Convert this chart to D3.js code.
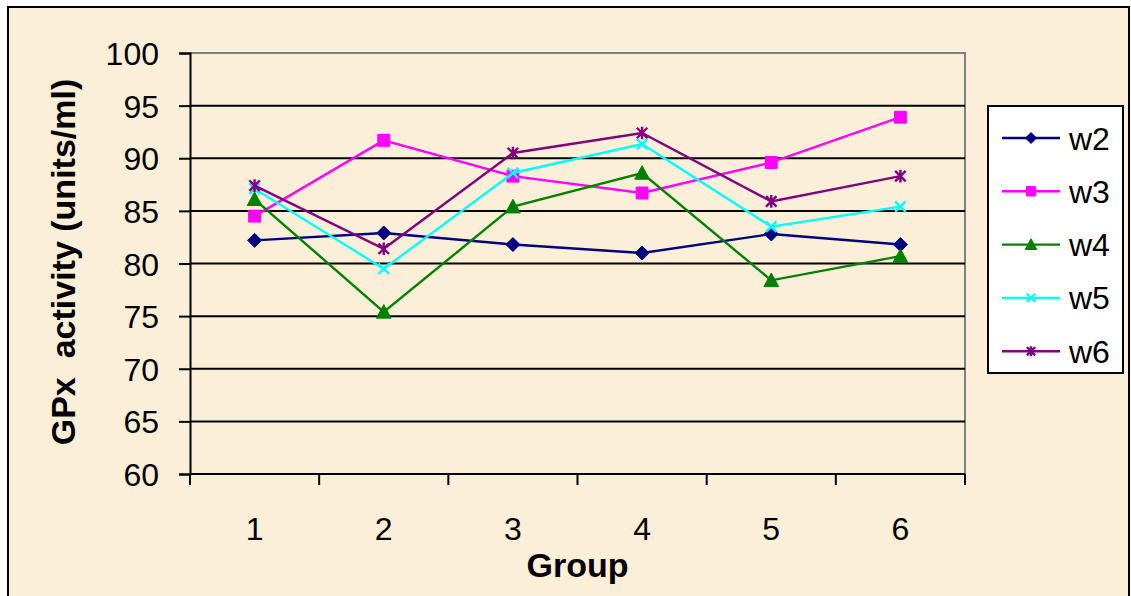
<!DOCTYPE html>
<html>
<head>
<meta charset="utf-8">
<script src="https://cdn.jsdelivr.net/npm/d3@7"></script>
<style>
  html, body { margin: 0; padding: 0; background: #ffffff; }
  svg { display: block; }
  text { font-family: Arial, "Liberation Sans", sans-serif; }
</style>
</head>
<body>
<svg id="chart" width="1131" height="596"></svg>
<script>
// ---- data ----
const groups = ["1", "2", "3", "4", "5", "6"];
const seriesNames = ["w2", "w3", "w4", "w5", "w6"];
const w2 = [82.2, 82.9, 81.8, 81.0, 82.8, 81.8];
const w3 = [84.5, 91.7, 88.3, 86.7, 89.6, 93.9];
const w4 = [86.1, 75.4, 85.4, 88.6, 78.4, 80.7];
const w5 = [87.1, 79.5, 88.6, 91.35, 83.5, 85.4];
const w6 = [87.4, 81.4, 90.5, 92.4, 85.9, 88.3];
const yTicks = [60, 65, 70, 75, 80, 85, 90, 95, 100];
const xTitle = "Group";
const yTitle = "GPx  activity (units/ml)";

const seriesValues = [w2, w3, w4, w5, w6];
const seriesColors = ["#000080", "#FF00FF", "#008000", "#00FFFF", "#800080"];
const seriesMarkers = ["diamond", "square", "triangle", "x", "star"];

// ---- layout ----
const plot = { left: 190, right: 965, top: 53, bottom: 474 };
const bg = "#FBEFD8";
const fontFam = "Arial, 'Liberation Sans', sans-serif";

const svg = d3.select("#chart");

// frame / background
svg.append("rect").attr("x", 8).attr("y", 7).attr("width", 1121).attr("height", 620)
  .attr("fill", bg).attr("stroke", "#000").attr("stroke-width", 2);

const x = d3.scaleBand().domain(groups).range([plot.left, plot.right]).paddingInner(0).paddingOuter(0);
const y = d3.scaleLinear().domain([60, 100]).range([plot.bottom, plot.top]);

// plot border (grey top and right)
svg.append("path")
  .attr("d", `M${plot.left},${plot.top}H${plot.right}V${plot.bottom}`)
  .attr("fill", "none").attr("stroke", "#808080").attr("stroke-width", 2);

// gridlines
svg.append("g").selectAll("line")
  .data(yTicks.filter(v => v > 60 && v < 100))
  .join("line")
  .attr("x1", plot.left).attr("x2", plot.right)
  .attr("y1", d => y(d)).attr("y2", d => y(d))
  .attr("stroke", "#000").attr("stroke-width", 2);

// y axis
const yAxis = svg.append("g")
  .attr("transform", `translate(${plot.left},0)`)
  .call(d3.axisLeft(y).tickValues(yTicks).tickSize(11).tickPadding(20).tickFormat(d3.format("d")));
yAxis.select(".domain").attr("stroke", "#000").attr("stroke-width", 2);
yAxis.selectAll(".tick line").attr("stroke", "#000").attr("stroke-width", 2);
yAxis.selectAll(".tick text").attr("font-size", 32).attr("fill", "#000")
  .attr("font-family", fontFam).attr("dy", "0.36em");

// x axis: labels at centers
const xAxis = svg.append("g")
  .attr("transform", `translate(0,${plot.bottom})`)
  .call(d3.axisBottom(x).tickSize(0).tickPadding(43));
xAxis.select(".domain").remove();
xAxis.selectAll(".tick text").attr("font-size", 32).attr("fill", "#000")
  .attr("font-family", fontFam);

// x axis line and boundary ticks
svg.append("line")
  .attr("x1", plot.left).attr("x2", plot.right)
  .attr("y1", plot.bottom).attr("y2", plot.bottom)
  .attr("stroke", "#000").attr("stroke-width", 2);
const boundaries = groups.map(g => x(g)).concat([x(groups[groups.length - 1]) + x.bandwidth()]);
svg.append("g").selectAll("line").data(boundaries).join("line")
  .attr("x1", d => d).attr("x2", d => d)
  .attr("y1", plot.bottom).attr("y2", plot.bottom + 11)
  .attr("stroke", "#000").attr("stroke-width", 2);

// titles
svg.append("text").attr("x", (plot.left + plot.right) / 2).attr("y", 577)
  .attr("text-anchor", "middle").attr("font-size", 34).attr("font-weight", "bold")
  .text(xTitle);
svg.append("text")
  .attr("transform", `translate(75,262) rotate(-90)`)
  .attr("text-anchor", "middle").attr("font-size", 34).attr("font-weight", "bold")
  .style("white-space", "pre")
  .text(yTitle);

// marker paths
function markerPath(type, s) {
  switch (type) {
    case "diamond": return `M0,${-s}L${s},0L0,${s}L${-s},0Z`;
    case "square": { const h = s * 0.85; return `M${-h},${-h}H${h}V${h}H${-h}Z`; }
    case "triangle": { const h = s * 1.05; return `M0,${-h}L${h},${h * 0.85}L${-h},${h * 0.85}Z`; }
    case "x": { const h = s * 0.75; return `M${-h},${-h}L${h},${h}M${h},${-h}L${-h},${h}`; }
    case "star": { const h = s * 0.75; return `M${-h},${-h}L${h},${h}M${h},${-h}L${-h},${h}M0,${-s * 0.9}V${s * 0.9}`; }
  }
}
function drawMarker(sel, type, color, s) {
  const filled = type === "diamond" || type === "square" || type === "triangle";
  sel.append("path").attr("d", markerPath(type, s))
    .attr("fill", filled ? color : "none")
    .attr("stroke", color)
    .attr("stroke-width", filled ? 1 : 2.4);
}

// series
const line = d3.line().x((d, i) => x(groups[i]) + x.bandwidth() / 2).y(d => y(d));
seriesValues.forEach((vals, si) => {
  const g = svg.append("g");
  g.append("path").datum(vals).attr("d", line)
    .attr("fill", "none").attr("stroke", seriesColors[si]).attr("stroke-width", 2.4);
  vals.forEach((v, i) => {
    const m = g.append("g").attr("transform", `translate(${x(groups[i]) + x.bandwidth() / 2},${y(v)})`);
    drawMarker(m, seriesMarkers[si], seriesColors[si], 7);
  });
});

// legend
const leg = svg.append("g");
leg.append("rect").attr("x", 988).attr("y", 106).attr("width", 135).attr("height", 267)
  .attr("fill", "#fff").attr("stroke", "#000").attr("stroke-width", 2);
seriesNames.forEach((name, i) => {
  const cy = 138 + i * 53.3;
  leg.append("line").attr("x1", 1002).attr("x2", 1060).attr("y1", cy).attr("y2", cy)
    .attr("stroke", seriesColors[i]).attr("stroke-width", 2.4);
  const m = leg.append("g").attr("transform", `translate(1031,${cy})`);
  drawMarker(m, seriesMarkers[i], seriesColors[i], 5.5);
  leg.append("text").attr("x", 1069).attr("y", cy + 11.5).attr("font-size", 32).text(name);
});
</script>
</body>
</html>
